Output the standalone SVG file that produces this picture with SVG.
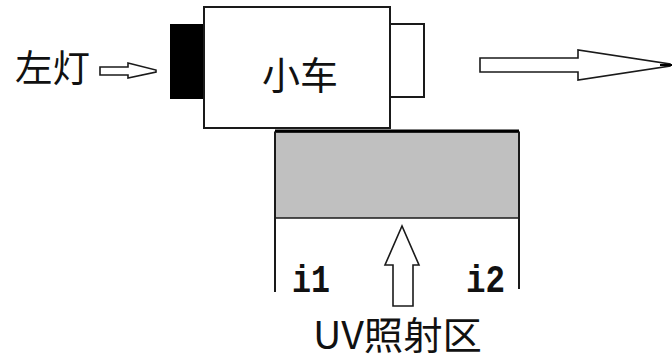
<svg xmlns="http://www.w3.org/2000/svg" width="672" height="363" viewBox="0 0 672 363">
<style>
.ln{fill:none;stroke:#1a1a1a;stroke-width:2}
.box{fill:#fff;stroke:#1a1a1a;stroke-width:2}
.arr{fill:#fff;stroke:#1a1a1a;stroke-width:1.6;stroke-linejoin:miter}
.cjk{font-family:"Noto Sans CJK SC","Liberation Serif",sans-serif;fill:#111}
.lbl{font-family:"Liberation Mono",monospace;font-weight:bold;fill:#111}
</style>
<rect width="672" height="363" fill="#fff"/>
<g id="left-light-label">
<text class="cjk" x="15" y="82" font-size="37" textLength="75" lengthAdjust="spacingAndGlyphs">左灯</text>
</g>
<g id="car">
<rect x="170" y="24" width="34" height="75" fill="#000"/>
<rect class="box" x="204" y="7" width="186" height="121"/>
<polyline class="ln" points="390,24 424,24 424,97 390,97"/>
<text class="cjk" x="300" y="89" font-size="38" text-anchor="middle">小车</text>
</g>
<g id="uv-zone">
<rect x="275" y="132" width="244" height="86" fill="#c0c0c0" stroke="#1a1a1a" stroke-width="1.5"/>
<line x1="275" y1="131" x2="519" y2="131" stroke="#000" stroke-width="3"/>
<line class="ln" x1="275" y1="132" x2="275" y2="292"/>
<line class="ln" x1="519" y1="132" x2="519" y2="289"/>
<text class="lbl" x="292" y="292" font-size="38" textLength="38" lengthAdjust="spacingAndGlyphs">i1</text>
<text class="lbl" x="466" y="292" font-size="38" textLength="39" lengthAdjust="spacingAndGlyphs">i2</text>
<text class="cjk" x="313" y="349" font-size="38" textLength="169" lengthAdjust="spacingAndGlyphs">UV照射区</text>
</g>
<g id="connectors">
<polygon class="arr" points="100,67 128,67 128,63 156,70 156,72 128,78 128,75 100,75"/>
<polygon class="arr" points="480,58 578,58 578,50 670,64 670,66 578,80 578,72 480,72"/>
<line x1="660" y1="65" x2="672" y2="65" stroke="#000" stroke-width="2"/>
<polygon class="arr" points="393,306 393,265 385,265 402,226 419,265 413,265 413,306"/>
</g>
</svg>
